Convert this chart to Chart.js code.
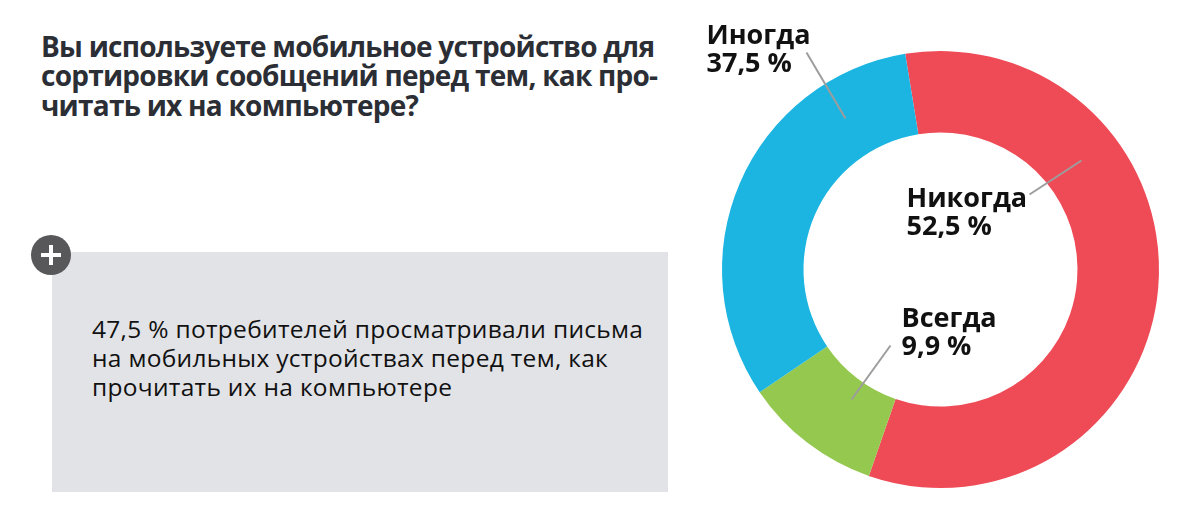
<!DOCTYPE html>
<html lang="ru">
<head>
<meta charset="utf-8">
<title>Сортировка сообщений на мобильном устройстве</title>
<script src="https://cdn.jsdelivr.net/npm/chart.js@4.4.1/dist/chart.umd.min.js"></script>
<style>
  html, body { margin: 0; padding: 0; background: #fff; }
  body { width: 1190px; height: 517px; position: relative; overflow: hidden; font-family: "Open Sans", sans-serif; }
  #title {
    position: absolute; left: 41px; top: 31.5px; margin: 0;
    font-size: 28px; line-height: 29.5px; font-weight: 700; color: #2b2e34;
    letter-spacing: -0.75px; white-space: nowrap;
  }
  #note {
    position: absolute; left: 52px; top: 252px; width: 616px; height: 240px;
    background: #e2e3e7;
  }
  #note p {
    position: absolute; left: 40px; top: 62px; margin: 0;
    font-size: 24.5px; line-height: 29px; color: #111; white-space: nowrap;
    letter-spacing: 0.3px;
  }
  #plus {
    position: absolute; left: 31px; top: 235px; width: 40px; height: 40px;
    border-radius: 50%; background: #58585b;
  }
  #plus::before, #plus::after { content: ""; position: absolute; background: #fff; }
  #plus::before { left: 10px; top: 18px; width: 20px; height: 4px; }
  #plus::after { left: 18px; top: 10px; width: 4px; height: 20px; }
  #chartBox { position: absolute; left: 0; top: 0; width: 1190px; height: 517px; }
</style>
</head>
<body>
<h1 id="title">Вы используете мобильное устройство для<br>сортировки сообщений перед тем, как про-<br>читать их на компьютере?</h1>
<div id="note"><p>47,5 % потребителей просматривали письма<br>на мобильных устройствах перед тем, как<br>прочитать их на компьютере</p></div>
<div id="plus"></div>
<div id="chartBox"><canvas id="donut" width="1190" height="517"></canvas></div>

<script>
// Ответы (порядок по часовой стрелке от верхней границы красного сектора)
const answers = ['Никогда', 'Всегда', 'Иногда'];
// подписи, как они напечатаны на картинке
const percentLabels = ['52,5 %', '9,9 %', '37,5 %'];
// доли секторов в том виде, как они нарисованы (измерено по дугам)
const arcShares = [57.9, 10.2, 31.9];
const sliceColors = ['#ef4b57', '#94c84f', '#1cb5e1'];

// смещения подписей и выносок от центра кольца
const labelLayout = [
  { tx: -34, ty: -63, lx1: 89, ly1: -75, lx2: 141, ly2: -109 },   // Никогда
  { tx: -39, ty: 57, lx1: -50, ly1: 76, lx2: -89, ly2: 130 },     // Всегда
  { tx: -234, ty: -226, lx1: -134, ly1: -217, lx2: -95, ly2: -151 } // Иногда
];

const donutLabels = {
  id: 'donutLabels',
  afterDraw(chart) {
    const ctx = chart.ctx;
    const meta = chart.getDatasetMeta(0);
    ctx.save();
    meta.data.forEach(function(arc, i) {
      const L = labelLayout[i];
      const cx = arc.x, cy = arc.y;
      ctx.strokeStyle = '#9d9d9d';
      ctx.lineWidth = 2;
      ctx.beginPath();
      ctx.moveTo(cx + L.lx1, cy + L.ly1);
      ctx.lineTo(cx + L.lx2, cy + L.ly2);
      ctx.stroke();

      ctx.fillStyle = '#111';
      ctx.font = '700 27px "Open Sans"';
      ctx.textAlign = 'left';
      ctx.textBaseline = 'alphabetic';
      ctx.fillText(answers[i], cx + L.tx, cy + L.ty);
      ctx.fillText(percentLabels[i], cx + L.tx, cy + L.ty + 28);
    });
    ctx.restore();
  }
};

document.addEventListener('DOMContentLoaded', function() {
  const ctx = document.getElementById('donut');
  new Chart(ctx, {
    type: 'doughnut',
    data: {
      labels: answers,
      datasets: [{
        data: arcShares,
        backgroundColor: sliceColors,
        borderWidth: 0
      }]
    },
    options: {
      responsive: false,
      animation: false,
      rotation: -9.3,
      cutout: '62.7%',
      layout: { padding: { left: 722, right: 31, top: 51, bottom: 29 } },
      plugins: {
        legend: { display: false },
        tooltip: { enabled: false }
      }
    },
    plugins: [donutLabels]
  });
});
</script>
</body>
</html>
